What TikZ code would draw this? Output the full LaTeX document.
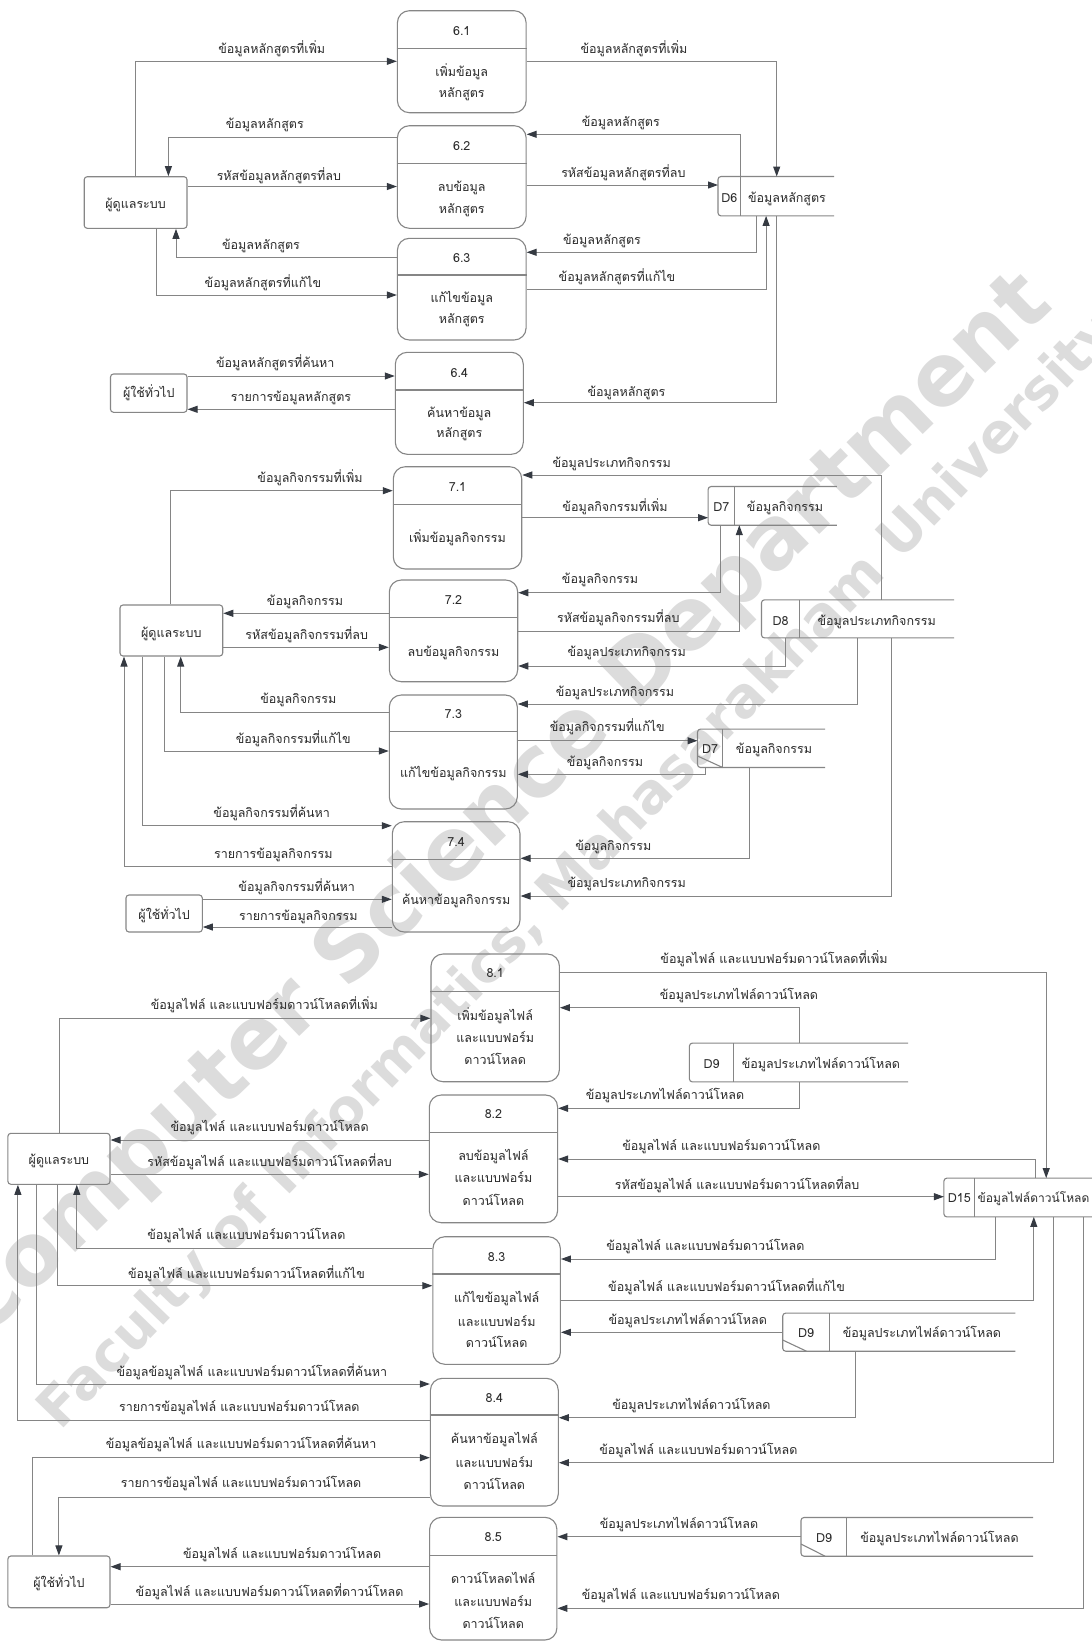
\documentclass[tikz,border=0pt]{standalone}
\usepackage{fontspec}
\newfontfamily\thaifont[Script=Thai]{Loma}
\newfontfamily\wmfont{DejaVu Sans}
\usetikzlibrary{arrows.meta,fit}
\definecolor{linec}{HTML}{858585}
\definecolor{boxc}{HTML}{868686}
\definecolor{tipc}{HTML}{353A42}
\definecolor{txtc}{HTML}{2A2A2A}
\definecolor{wmc}{HTML}{DCDCDC}
\newcommand\mybsh{4.5}
\tikzset{
 txt/.style={anchor=base, inner sep=0, text=txtc, font=\thaifont\fontsize{12.5}{15}\selectfont},
 flow/.style={draw=linec, line width=1pt, -{Triangle[length=10pt,width=7pt,color=tipc]}},
 procbox/.style={draw=boxc, line width=1.1pt, rounded corners=12pt, inner sep=0},
 entbox/.style={draw=boxc, line width=1.1pt, rounded corners=3pt, inner sep=0},
 holder/.style={inner sep=0, draw=none},
 boxline/.style={draw=boxc, line width=1.1pt},
 wmbig/.style={text=wmc, inner sep=0, font=\wmfont\bfseries\fontsize{86}{90}\selectfont},
 wmsmall/.style={text=wmc, inner sep=0, font=\wmfont\bfseries\fontsize{55}{60}\selectfont},
}
\newcommand\mkent[5]{\node[entbox, fit={(#2,#3) (#4,#5)}] (#1) {};}
\newcommand\mkproc[8]{%
 \node[procbox, fit={(#2,#3) (#4,#5)}] (#1) {};
 \draw[boxline] (#1.west |- 0,#6) -- (#1.east |- 0,#6);
 \node[txt] (#1id) at ({(#2+#4)/2},{#8+\mybsh}) {#7};}
\newcommand\mkstore[6]{%
 \node[holder, fit={(#2,#3) (#4,#5)}] (#1) {};
 \draw[boxline, rounded corners=3pt] (#1.north east) -- (#1.north west) -- (#1.south west) -- (#1.south east);
 \draw[boxline] (#1.north -| #6,0) -- (#1.south -| #6,0);}
\newcommand\mklbl[4]{\node[txt] (#1) at (#2,{#3+\mybsh}) {#4};}
\newcommand\mkbl[4]{\node[txt] (#1) at (#2.center |- 0,{#3+\mybsh}) {#4};}
\begin{document}
\begin{tikzpicture}[x=1pt,y=-1pt]
\path[use as bounding box, fill=white] (0,0) rectangle (1092,1642);
% watermark
\node[wmbig, rotate=44] (wm1) at (502,808) {Computer Science Department};
\node[wmsmall, rotate=46] (wm2) at (580,872) {Faculty of Informatics, Mahasarakham University};

% ================= Section 6 =================
\mkent{e61}{84.2}{176.7}{187}{228.3}
\mkbl{e61t}{e61}{204}{ผู้ดูแลระบบ}
\mkent{e62}{110.5}{374}{187}{412.3}
\mkbl{e62t}{e62}{393.3}{ผู้ใช้ทั่วไป}
\mkproc{p61}{397.4}{10.7}{526.1}{112.7}{48.3}{6.1}{31}
\mkbl{p61a}{p61}{71.7}{เพิ่มข้อมูล}
\mkbl{p61b}{p61}{93.3}{หลักสูตร}
\mkproc{p62}{397.4}{125.7}{526.1}{228.3}{163.3}{6.2}{145.7}
\mkbl{p62a}{p62}{186.7}{ลบข้อมูล}
\mkbl{p62b}{p62}{209}{หลักสูตร}
\mkproc{p63}{397.4}{238.3}{526.1}{340}{275}{6.3}{257.7}
\mkbl{p63a}{p63}{298.3}{แก้ไขข้อมูล}
\mkbl{p63b}{p63}{319.3}{หลักสูตร}
\mkproc{p64}{395.3}{352.3}{523.3}{454.3}{390}{6.4}{372.7}
\mkbl{p64a}{p64}{412.7}{ค้นหาข้อมูล}
\mkbl{p64b}{p64}{433.3}{หลักสูตร}
\mkstore{d6}{718.2}{176.7}{834}{215.7}{740.5}
\mklbl{d6i}{729.3}{198}{D6}
\mklbl{d6n}{787}{198}{ข้อมูลหลักสูตร}

\draw[flow] (e61.north -| 135.7,0) |- (p61.west |- 0,61.3);
\mklbl{l01}{271.8}{49}{ข้อมูลหลักสูตรที่เพิ่ม}
\draw[flow] (p61.east |- 0,61.3) -| (d6.north -| 776.7,0);
\mklbl{l02}{634}{49}{ข้อมูลหลักสูตรที่เพิ่ม}
\draw[flow] (d6.north -| 740.5,0) |- (p62.east |- 0,134.3);
\mklbl{l03}{620.8}{121.7}{ข้อมูลหลักสูตร}
\draw[flow] (p62.west |- 0,137) -| (e61.north -| 168.4,0);
\mklbl{l04}{264.8}{124.3}{ข้อมูลหลักสูตร}
\draw[flow] (e61.east |- 0,186.5) -- (p62.west |- 0,186.5);
\mklbl{l05}{278.9}{175.7}{รหัสข้อมูลหลักสูตรที่ลบ}
\draw[flow] (p62.east |- 0,185) -- (d6.west |- 0,185);
\mklbl{l06}{623.4}{172.7}{รหัสข้อมูลหลักสูตรที่ลบ}
\draw[flow] (d6.south -| 756.7,0) |- (p63.east |- 0,252.3);
\mklbl{l07}{602}{240}{ข้อมูลหลักสูตร}
\draw[flow] (p63.east |- 0,289.3) -| (d6.south -| 766.1,0);
\mklbl{l08}{617}{277.3}{ข้อมูลหลักสูตรที่แก้ไข}
\draw[flow] (p63.west |- 0,257) -| (e61.south -| 176,0);
\mklbl{l09}{261}{245}{ข้อมูลหลักสูตร}
\draw[flow] (e61.south -| 156.8,0) |- (p63.west |- 0,295);
\mklbl{l10}{263}{283.3}{ข้อมูลหลักสูตรที่แก้ไข}
\draw[flow] (e62.east |- 0,376) -- (p64.west |- 0,376);
\mklbl{l11}{275.3}{362.7}{ข้อมูลหลักสูตรที่ค้นหา}
\draw[flow] (p64.west |- 0,409.3) -- (e62.east |- 0,409.3);
\mklbl{l12}{291}{396.7}{รายการข้อมูลหลักสูตร}
\draw[flow] (d6.south -| 776.7,0) |- (p64.east |- 0,402.7);
\mklbl{l13}{626.5}{391.7}{ข้อมูลหลักสูตร}

% ================= Section 7 =================
\mkent{e71}{120}{605}{222.7}{656}
\mkbl{e71t}{e71}{632.7}{ผู้ดูแลระบบ}
\mkent{e72}{126}{895}{202.3}{932}
\mkbl{e72t}{e72}{915}{ผู้ใช้ทั่วไป}
\mkproc{p71}{393.3}{466.7}{521.7}{569}{504.3}{7.1}{486.7}
\mkbl{p71a}{p71}{538.3}{เพิ่มข้อมูลกิจกรรม}
\mkproc{p72}{389.3}{580}{517.7}{681.7}{617.3}{7.2}{600}
\mkbl{p72a}{p72}{651.7}{ลบข้อมูลกิจกรรม}
\mkproc{p73}{389.3}{695}{517.3}{809}{731.7}{7.3}{714.3}
\mkbl{p73a}{p73}{772.7}{แก้ไขข้อมูลกิจกรรม}
\mkproc{p74}{392.3}{821.7}{520}{932}{859.3}{7.4}{842.3}
\mkbl{p74a}{p74}{900}{ค้นหาข้อมูลกิจกรรม}
\mkstore{d7a}{708.3}{486.7}{836.7}{525}{734.3}
\mklbl{d7ai}{721.3}{507.3}{D7}
\mklbl{d7an}{785}{507.3}{ข้อมูลกิจกรรม}
\mkstore{d8}{761.7}{600}{954}{637.7}{799.3}
\mklbl{d8i}{780.5}{620.7}{D8}
\mklbl{d8n}{876.7}{620.7}{ข้อมูลประเภทกิจกรรม}
\mkstore{d7b}{697.7}{729.3}{825}{767.3}{722.7}
\draw[boxline] (d7b.west |- 0,756) -- (d7b.south -| 722.7,0);
\mklbl{d7bi}{710.2}{749.3}{D7}
\mklbl{d7bn}{774}{749.3}{ข้อมูลกิจกรรม}

\draw[flow] (e71.north -| 170.7,0) |- (p71.west |- 0,490.7);
\mklbl{m01}{310}{477.7}{ข้อมูลกิจกรรมที่เพิ่ม}
\draw[flow] (d8.north -| 881.7,0) |- (p71.east |- 0,475);
\mklbl{m02}{611.7}{463.3}{ข้อมูลประเภทกิจกรรม}
\draw[flow] (p71.east |- 0,517.7) -- (d7a.west |- 0,517.7);
\mklbl{m03}{615}{506.7}{ข้อมูลกิจกรรมที่เพิ่ม}
\draw[flow] (d7a.south -| 720,0) |- (p72.east |- 0,592.7);
\mklbl{m04}{600}{579.3}{ข้อมูลกิจกรรม}
\draw[flow] (p72.east |- 0,631) -| (d7a.south -| 739.3,0);
\mklbl{m05}{618.3}{618.3}{รหัสข้อมูลกิจกรรมที่ลบ}
\draw[flow] (d8.south -| 785,0) |- (p72.east |- 0,666);
\mklbl{m06}{626.7}{652.3}{ข้อมูลประเภทกิจกรรม}
\draw[flow] (p72.west |- 0,613.3) -- (e71.east |- 0,613.3);
\mklbl{m07}{305}{600.7}{ข้อมูลกิจกรรม}
\draw[flow] (e71.east |- 0,647.3) -- (p72.west |- 0,647.3);
\mklbl{m08}{306.7}{635}{รหัสข้อมูลกิจกรรมที่ลบ}
\draw[flow] (p73.west |- 0,712.3) -| (e71.south -| 180.7,0);
\mklbl{m09}{298.3}{699.3}{ข้อมูลกิจกรรม}
\draw[flow] (e71.south -| 164.3,0) |- (p73.west |- 0,751);
\mklbl{m10}{293.3}{739.3}{ข้อมูลกิจกรรมที่แก้ไข}
\draw[flow] (d8.south -| 857.7,0) |- (p73.east |- 0,704);
\mklbl{m11}{615}{692.3}{ข้อมูลประเภทกิจกรรม}
\draw[flow] (p73.east |- 0,740.7) -- (d7b.west |- 0,740.7);
\mklbl{m12}{607.3}{727.3}{ข้อมูลกิจกรรมที่แก้ไข}
\draw[flow] (d7b.south -| 705,0) |- (p73.east |- 0,774.3);
\mklbl{m13}{605}{761.7}{ข้อมูลกิจกรรม}
\draw[flow] (e71.south -| 142.7,0) |- (p74.west |- 0,825.7);
\mklbl{m14}{271.7}{813.3}{ข้อมูลกิจกรรมที่ค้นหา}
\draw[flow] (p74.west |- 0,866) -| (e71.south -| 124,0);
\mklbl{m15}{273.3}{854}{รายการข้อมูลกิจกรรม}
\draw[flow] (d7b.south -| 749.3,0) |- (p74.east |- 0,858.3);
\mklbl{m16}{613.3}{845.7}{ข้อมูลกิจกรรม}
\draw[flow] (d8.south -| 891,0) |- (p74.east |- 0,896);
\mklbl{m17}{626.7}{883.3}{ข้อมูลประเภทกิจกรรม}
\draw[flow] (e72.east |- 0,899.3) -- (p74.west |- 0,899.3);
\mklbl{m18}{296.7}{886.7}{ข้อมูลกิจกรรมที่ค้นหา}
\draw[flow] (p74.west |- 0,927) -- (e72.east |- 0,927);
\mklbl{m19}{298.3}{916}{รายการข้อมูลกิจกรรม}

% ================= Section 8 =================
\mkent{e81}{7.9}{1133.3}{110}{1184.3}
\mkbl{e81t}{e81}{1160}{ผู้ดูแลระบบ}
\mkent{e82}{7.9}{1556}{110}{1607.7}
\mkbl{e82t}{e82}{1582.7}{ผู้ใช้ทั่วไป}
\mkproc{p81}{431}{954}{559.4}{1081.7}{991.7}{8.1}{973.3}
\mkbl{p81a}{p81}{1016}{เพิ่มข้อมูลไฟล์}
\mkbl{p81b}{p81}{1038.3}{และแบบฟอร์ม}
\mkbl{p81c}{p81}{1060}{ดาวน์โหลด}
\mkproc{p82}{429.3}{1095}{557.6}{1222.7}{1132.3}{8.2}{1114}
\mkbl{p82a}{p82}{1156}{ลบข้อมูลไฟล์}
\mkbl{p82b}{p82}{1178.3}{และแบบฟอร์ม}
\mkbl{p82c}{p82}{1201}{ดาวน์โหลด}
\mkproc{p83}{432.9}{1236.7}{560.4}{1364.3}{1274}{8.3}{1256.7}
\mkbl{p83a}{p83}{1298.3}{แก้ไขข้อมูลไฟล์}
\mkbl{p83b}{p83}{1321.7}{และแบบฟอร์ม}
\mkbl{p83c}{p83}{1342.7}{ดาวน์โหลด}
\mkproc{p84}{430.4}{1378.3}{558.3}{1506}{1415}{8.4}{1397.7}
\mkbl{p84a}{p84}{1439.3}{ค้นหาข้อมูลไฟล์}
\mkbl{p84b}{p84}{1462.7}{และแบบฟอร์ม}
\mkbl{p84c}{p84}{1485}{ดาวน์โหลด}
\mkproc{p85}{429.6}{1517.3}{556.9}{1640}{1555.7}{8.5}{1536.7}
\mkbl{p85a}{p85}{1579.3}{ดาวน์โหลดไฟล์}
\mkbl{p85b}{p85}{1601.7}{และแบบฟอร์ม}
\mkbl{p85c}{p85}{1624}{ดาวน์โหลด}
\mkstore{d9a}{689.6}{1043.3}{907.8}{1081.7}{733.6}
\mklbl{d9ai}{711.6}{1064}{D9}
\mklbl{d9an}{820.9}{1064}{ข้อมูลประเภทไฟล์ดาวน์โหลด}
\mkstore{d15}{944.1}{1178.3}{1092}{1216.7}{974.7}
\mklbl{d15i}{959.4}{1198.3}{D15}
\node[txt, font=\thaifont\fontsize{12}{14}\selectfont] (d15n) at (1033.5,{1198.3+\mybsh}) {ข้อมูลไฟล์ดาวน์โหลด};
\mkstore{d9b}{782.9}{1313.3}{1015.2}{1351}{829.3}
\draw[boxline] (d9b.west |- 0,1340) -- (d9b.south -| 806.5,0);
\mklbl{d9bi}{806.1}{1333.3}{D9}
\mklbl{d9bn}{921.9}{1333.3}{ข้อมูลประเภทไฟล์ดาวน์โหลด}
\mkstore{d9c}{801.2}{1517.7}{1032.8}{1556}{846.9}
\draw[boxline] (d9c.west |- 0,1544) -- (d9c.south -| 825.1,0);
\mklbl{d9ci}{824}{1537.7}{D9}
\mklbl{d9cn}{939.5}{1537.7}{ข้อมูลประเภทไฟล์ดาวน์โหลด}

\draw[flow] (e81.north -| 59,0) |- (p81.west |- 0,1018.3);
\mklbl{n01}{264.3}{1005}{ข้อมูลไฟล์ และแบบฟอร์มดาวน์โหลดที่เพิ่ม}
\draw[flow] (p81.east |- 0,972.7) -| (d15.north -| 1046.2,0);
\mklbl{n02}{774}{959.3}{ข้อมูลไฟล์ และแบบฟอร์มดาวน์โหลดที่เพิ่ม}
\draw[flow] (d9a.north -| 799.4,0) |- (p81.east |- 0,1007.7);
\mklbl{n03}{738.9}{995}{ข้อมูลประเภทไฟล์ดาวน์โหลด}
\draw[flow] (d9a.south -| 799.4,0) |- (p82.east |- 0,1108.3);
\mklbl{n04}{665}{1095}{ข้อมูลประเภทไฟล์ดาวน์โหลด}
\draw[flow] (d15.north -| 1035.3,0) |- (p82.east |- 0,1159);
\mklbl{n05}{721.3}{1146}{ข้อมูลไฟล์ และแบบฟอร์มดาวน์โหลด}
\draw[flow] (p82.east |- 0,1196.7) -- (d15.west |- 0,1196.7);
\mklbl{n06}{737.1}{1185}{รหัสข้อมูลไฟล์ และแบบฟอร์มดาวน์โหลดที่ลบ}
\draw[flow] (p82.west |- 0,1140) -- (e81.east |- 0,1140);
\mklbl{n07}{269.6}{1127.3}{ข้อมูลไฟล์ และแบบฟอร์มดาวน์โหลด}
\draw[flow] (e81.east |- 0,1174.3) -- (p82.west |- 0,1174.3);
\mklbl{n08}{269.6}{1161.7}{รหัสข้อมูลไฟล์ และแบบฟอร์มดาวน์โหลดที่ลบ}
\draw[flow] (p83.west |- 0,1248.3) -| (e81.south -| 76.8,0);
\mklbl{n09}{246.4}{1235}{ข้อมูลไฟล์ และแบบฟอร์มดาวน์โหลด}
\draw[flow] (e81.south -| 57.9,0) |- (p83.west |- 0,1285.7);
\mklbl{n10}{246.4}{1274}{ข้อมูลไฟล์ และแบบฟอร์มดาวน์โหลดที่แก้ไข}
\draw[flow] (d15.south -| 995.8,0) |- (p83.east |- 0,1259);
\mklbl{n11}{705.4}{1246}{ข้อมูลไฟล์ และแบบฟอร์มดาวน์โหลด}
\draw[flow] (p83.east |- 0,1300.7) -| (d15.south -| 1033.8,0);
\mklbl{n12}{726.6}{1287.3}{ข้อมูลไฟล์ และแบบฟอร์มดาวน์โหลดที่แก้ไข}
\draw[flow] (d9b.west |- 0,1332.3) -- (p83.east |- 0,1332.3);
\mklbl{n13}{687.8}{1320}{ข้อมูลประเภทไฟล์ดาวน์โหลด}
\draw[flow] (e81.south -| 36.8,0) |- (p84.west |- 0,1384);
\mklbl{n14}{251.8}{1371.7}{ข้อมูลข้อมูลไฟล์ และแบบฟอร์มดาวน์โหลดที่ค้นหา}
\draw[flow] (p84.west |- 0,1420) -| (e81.south -| 17.9,0);
\mklbl{n15}{239.3}{1406.7}{รายการข้อมูลไฟล์ และแบบฟอร์มดาวน์โหลด}
\draw[flow] (d9b.south -| 855,0) |- (p84.east |- 0,1417.7);
\mklbl{n16}{691.4}{1405}{ข้อมูลประเภทไฟล์ดาวน์โหลด}
\draw[flow] (d15.south -| 1053.9,0) |- (p84.east |- 0,1462.7);
\mklbl{n17}{698.4}{1450}{ข้อมูลไฟล์ และแบบฟอร์มดาวน์โหลด}
\draw[flow] (e82.north -| 32.1,0) |- (p84.west |- 0,1457.7);
\mklbl{n18}{241.1}{1444}{ข้อมูลข้อมูลไฟล์ และแบบฟอร์มดาวน์โหลดที่ค้นหา}
\draw[flow] (p84.west |- 0,1497.7) -| (e82.north -| 58.9,0);
\mklbl{n19}{241.1}{1483.3}{รายการข้อมูลไฟล์ และแบบฟอร์มดาวน์โหลด}
\draw[flow] (d9c.west |- 0,1536.7) -- (p85.east |- 0,1536.7);
\mklbl{n20}{679}{1524.3}{ข้อมูลประเภทไฟล์ดาวน์โหลด}
\draw[flow] (d15.south -| 1083.8,0) |- (p85.east |- 0,1608.3);
\mklbl{n21}{680.8}{1595}{ข้อมูลไฟล์ และแบบฟอร์มดาวน์โหลด}
\draw[flow] (p85.west |- 0,1566.7) -- (e82.east |- 0,1566.7);
\mklbl{n22}{282.1}{1554}{ข้อมูลไฟล์ และแบบฟอร์มดาวน์โหลด}
\draw[flow] (e82.east |- 0,1604) -- (p85.west |- 0,1604);
\mklbl{n23}{269.6}{1591.7}{ข้อมูลไฟล์ และแบบฟอร์มดาวน์โหลดที่ดาวน์โหลด}
\end{tikzpicture}
\end{document}
